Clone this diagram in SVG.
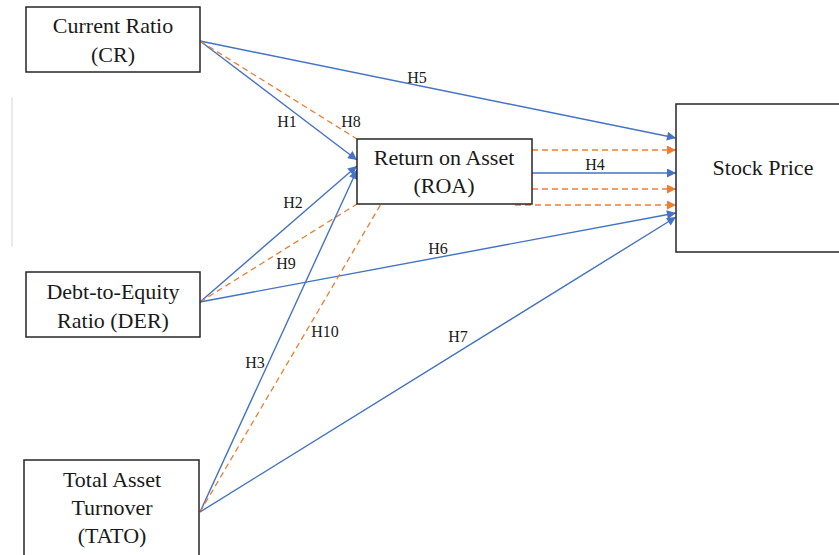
<svg xmlns="http://www.w3.org/2000/svg" width="839" height="555" viewBox="0 0 839 555" font-family="Liberation Serif, Times New Roman, serif">
<style>
.box{fill:#fff;stroke:#262626;stroke-width:1.5}
.t{font-size:22px;fill:#1a1a1a;text-anchor:middle}
.l{font-size:16px;fill:#1a1a1a;text-anchor:middle}
.b{stroke:#4472C4;stroke-width:1.4;fill:none}
.o{stroke:#ED7D31;stroke-width:1.3;fill:none;stroke-dasharray:6 4}
</style>
<defs>
<marker id="ab" viewBox="0 0 10 10" refX="10" refY="5" markerWidth="11" markerHeight="9" markerUnits="userSpaceOnUse" orient="auto"><path d="M0,0 L10,5 L0,10 z" fill="#4472C4"/></marker>
<marker id="ao" viewBox="0 0 10 10" refX="10" refY="5" markerWidth="11" markerHeight="9" markerUnits="userSpaceOnUse" orient="auto"><path d="M0,0 L10,5 L0,10 z" fill="#ED7D31"/></marker>
</defs>
<rect width="839" height="555" fill="#fff"/>
<line x1="12" y1="97" x2="12" y2="247" stroke="#dcdcdc" stroke-width="1.2"/>
<g id="connectors">
<line class="b" x1="200" y1="41" x2="676" y2="138" marker-end="url(#ab)"/>
<line class="b" x1="200" y1="41" x2="357" y2="160" marker-end="url(#ab)"/>
<line class="o" x1="200" y1="41" x2="357" y2="139"/>
<line class="b" x1="200" y1="302" x2="357" y2="166" marker-end="url(#ab)"/>
<line class="o" x1="200" y1="302" x2="357" y2="204"/>
<line class="b" x1="200" y1="302" x2="676" y2="213" marker-end="url(#ab)"/>
<line class="b" x1="200" y1="512" x2="357" y2="170" marker-end="url(#ab)"/>
<line class="o" x1="200" y1="512" x2="381" y2="204"/>
<line class="b" x1="200" y1="512" x2="676" y2="217" marker-end="url(#ab)"/>
<line class="o" x1="532" y1="150" x2="676" y2="150" marker-end="url(#ao)"/>
<line class="b" x1="532" y1="173" x2="676" y2="173" marker-end="url(#ab)"/>
<line class="o" x1="532" y1="189" x2="676" y2="189" marker-end="url(#ao)"/>
<line class="o" x1="515" y1="205" x2="676" y2="205" marker-end="url(#ao)"/>
<text class="l" x="417" y="83">H5</text>
<text class="l" x="287" y="127">H1</text>
<text class="l" x="351" y="127">H8</text>
<text class="l" x="595" y="170">H4</text>
<text class="l" x="293" y="208">H2</text>
<text class="l" x="286" y="269">H9</text>
<text class="l" x="438" y="254">H6</text>
<text class="l" x="325" y="337">H10</text>
<text class="l" x="255" y="368">H3</text>
<text class="l" x="458" y="342">H7</text>
</g>
<g id="cr"><rect class="box" x="26" y="7" width="174" height="65"/><text class="t" x="113" y="33">Current Ratio</text><text class="t" x="113" y="62">(CR)</text></g>
<g id="der"><rect class="box" x="26" y="272" width="174" height="65"/><text class="t" x="113" y="299">Debt-to-Equity</text><text class="t" x="113" y="328">Ratio (DER)</text></g>
<g id="tato"><rect class="box" x="24" y="460" width="175" height="110"/><text class="t" x="112" y="487">Total Asset</text><text class="t" x="112" y="515">Turnover</text><text class="t" x="112" y="543">(TATO)</text></g>
<g id="roa"><rect class="box" x="357" y="139" width="175" height="65"/><text class="t" x="444" y="165">Return on Asset</text><text class="t" x="444" y="193">(ROA)</text></g>
<g id="stock"><rect class="box" x="676" y="104" width="175" height="148"/><text class="t" x="763" y="175">Stock Price</text></g>
</svg>
